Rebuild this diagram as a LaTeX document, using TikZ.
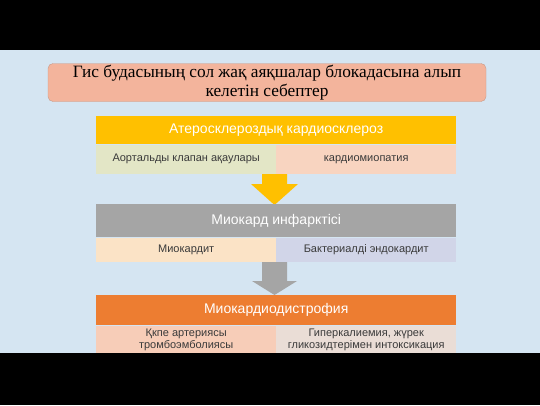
\documentclass[tikz,border=0pt]{standalone}
\usepackage{fontspec}
\setmainfont{Liberation Sans}
\newfontfamily\titlefont{Liberation Serif}
\definecolor{bgblue}{HTML}{D5E5F2}
\definecolor{titlefill}{HTML}{F3B49C}
\definecolor{titleline}{HTML}{C89A88}
\definecolor{hdA}{HTML}{FFC000}
\definecolor{hdB}{HTML}{A5A5A5}
\definecolor{hdC}{HTML}{ED7D31}
\definecolor{subAl}{HTML}{E3E6C6}
\definecolor{subAr}{HTML}{F8D4C0}
\definecolor{subBl}{HTML}{FBE3C6}
\definecolor{subBr}{HTML}{D1D5E8}
\definecolor{subCl}{HTML}{F7CDB8}
\definecolor{subCr}{HTML}{EADDD6}
\definecolor{txt}{HTML}{3A3A3A}
\tikzset{
  header/.style={minimum width=360pt, minimum height=#1, inner sep=0pt, text=white, text height=10pt, text depth=3pt, font=\fontsize{14}{16}\selectfont},
  subcell/.style={minimum width=180pt, minimum height=#1, inner sep=0pt, text=txt, align=center, font=\fontsize{11}{12.5}\selectfont},
  oneline/.style={text height=8pt, text depth=2.5pt}
}
\begin{document}
\begin{tikzpicture}[x=1pt,y=-1pt]
\useasboundingbox (0,0) rectangle (540,405);
\fill[black] (0,0) rectangle (540,405);
\fill[bgblue] (0,50) rectangle (540,353);
% title
\node[draw=titleline, fill=titlefill, rounded corners=5pt, minimum width=438pt, minimum height=38pt, inner sep=0pt, align=center, font=\titlefont\fontsize{17.3}{19}\selectfont] (title) at (267,82.5) {Гис будасының сол жақ аяқшалар блокадасына алып\\келетін себептер};
% arrows (behind)
\fill[hdA] (262,172) -- (287,172) -- (287,184) -- (298,184) -- (274.5,205) -- (251,184) -- (262,184) -- cycle;
\fill[hdB] (262,260) -- (287,260) -- (287,281) -- (297,281) -- (274.5,295) -- (252,281) -- (262,281) -- cycle;
% block 1
\node[header=28pt, fill=hdA, anchor=north west] (h1) at (96,116) {Атеросклероздық кардиосклероз};
\node[subcell=29pt, oneline, fill=subAl, anchor=north west] (a1) at (h1.south west) {Аортальды клапан ақаулары};
\node[subcell=29pt, oneline, fill=subAr, anchor=north east] (b1) at (h1.south east) {кардиомиопатия};
% block 2
\node[header=33pt, fill=hdB, anchor=north west] (h2) at (96,204) {Миокард инфарктісі};
\node[subcell=24pt, oneline, fill=subBl, anchor=north west] (a2) at (h2.south west) {Миокардит};
\node[subcell=24pt, oneline, fill=subBr, anchor=north east] (b2) at (h2.south east) {Бактериалді эндокардит};
% block 3
\node[header=30pt, fill=hdC, anchor=north west] (h3) at (96,295) {Миокардиодистрофия};
\node[subcell=28pt, fill=subCl, anchor=north west] (a3) at (h3.south west) {Қкпе артериясы\\тромбоэмболиясы};
\node[subcell=28pt, fill=subCr, anchor=north east] (b3) at (h3.south east) {Гиперкалиемия, жүрек\\гликозидтерімен интоксикация};
\fill[black] (0,353) rectangle (540,405);
\end{tikzpicture}
\end{document}
